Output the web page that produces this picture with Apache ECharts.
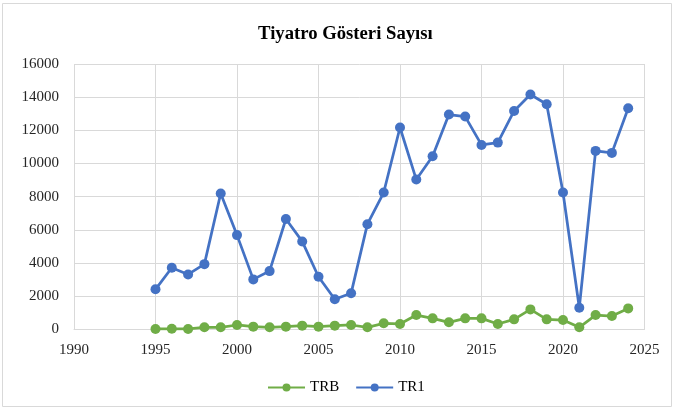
<!DOCTYPE html>
<html>
<head>
<meta charset="utf-8">
<style>
  html, body { margin: 0; padding: 0; background: #fff; }
  #chart { width: 674px; height: 410px; }
</style>
<script src="https://cdn.jsdelivr.net/npm/echarts@6/dist/echarts.min.js"></script>
</head>
<body>
<div id="chart"></div>
<script>
// years and values
const years = [1995, 1996, 1997, 1998, 1999, 2000, 2001, 2002, 2003, 2004,
  2005, 2006, 2007, 2008, 2009, 2010, 2011, 2012, 2013, 2014,
  2015, 2016, 2017, 2018, 2019, 2020, 2021, 2022, 2023, 2024]
const trb = [20, 30, 20, 120, 120, 260, 160, 120, 160, 220,
  160, 220, 260, 120, 360, 320, 860, 660, 420, 660,
  660, 320, 600, 1200, 600, 560, 120, 860, 800, 1260]
const tr1 = [2410, 3710, 3310, 3930, 8190, 5680, 3010, 3510, 6650, 5300,
  3170, 1810, 2170, 6340, 8250, 12170, 9030, 10440, 12950, 12830,
  11120, 11260, 13170, 14160, 13570, 8250, 1300, 10760, 10640, 13330]

const toPairs = vals => years.map((y, i) => [y, vals[i]])

const chart = echarts.init(document.getElementById('chart'))
chart.setOption({
  animation: false,
  title: {
    text: 'Tiyatro Gösteri Sayısı',
    left: 253,
    top: 20,
    textStyle: {
      fontFamily: 'Liberation Serif',
      fontSize: 18.7,
      fontWeight: 'bold',
      color: '#000'
    }
  },
  graphic: [{
    type: 'rect',
    shape: { x: 2.5, y: 3.5, width: 669, height: 403 },
    style: { fill: 'none', stroke: '#d9d9d9', lineWidth: 1 },
    silent: true
  }],
  grid: {
    left: 74,
    right: 29.5,
    top: 64,
    bottom: 80.7
  },
  legend: {
    bottom: 10,
    left: 262,
    itemWidth: 37,
    itemHeight: 10,
    itemGap: 16,
    textStyle: {
      fontFamily: 'Liberation Serif',
      fontSize: 15,
      color: '#000'
    },
    data: ['TRB', 'TR1']
  },
  xAxis: {
    type: 'value',
    min: 1990,
    max: 2025,
    interval: 5,
    axisLine: { show: true, lineStyle: { color: '#d9d9d9' } },
    axisTick: { show: false },
    splitLine: { show: true, lineStyle: { color: '#d9d9d9', width: 1 } },
    axisLabel: {
      margin: 13,
      formatter: v => String(v),
      fontFamily: 'Liberation Serif',
      fontSize: 15,
      color: '#262626'
    }
  },
  yAxis: {
    type: 'value',
    min: 0,
    max: 16000,
    interval: 2000,
    axisLine: { show: false },
    axisTick: { show: false },
    splitLine: { lineStyle: { color: '#d9d9d9', width: 1 } },
    axisLabel: {
      margin: 15,
      formatter: v => String(v),
      fontFamily: 'Liberation Serif',
      fontSize: 15,
      color: '#262626'
    }
  },
  series: [
    {
      name: 'TRB',
      type: 'line',
      data: toPairs(trb),
      symbol: 'circle',
      symbolSize: 10,
      itemStyle: { color: '#70AD47' },
      lineStyle: { color: '#70AD47', width: 2.75 }
    },
    {
      name: 'TR1',
      type: 'line',
      data: toPairs(tr1),
      symbol: 'circle',
      symbolSize: 10,
      itemStyle: { color: '#4472C4' },
      lineStyle: { color: '#4472C4', width: 2.75 }
    }
  ]
})
</script>
</body>
</html>
